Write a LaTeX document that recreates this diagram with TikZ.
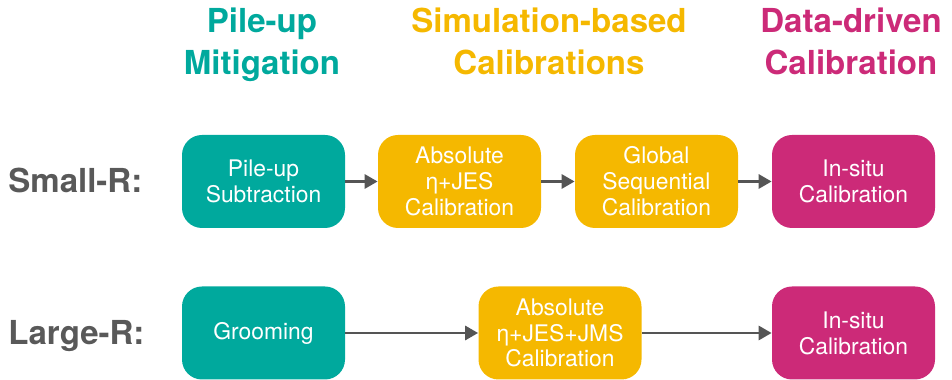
\documentclass[tikz,border=0pt]{standalone}
\usepackage{fontspec}
\setmainfont{TeX Gyre Heros}
\usepackage{tikz}
\usetikzlibrary{arrows.meta,positioning}
\definecolor{pileup}{HTML}{00A99D}
\definecolor{simcal}{HTML}{F5B800}
\definecolor{datacal}{HTML}{CC2A78}
\definecolor{labelgray}{HTML}{595959}
\definecolor{arrowgray}{HTML}{555555}

\begin{document}
\begin{tikzpicture}[
  stage/.style={rounded corners=0.4cm, minimum width=3.26cm, minimum height=1.86cm, inner sep=0, align=center, text=white, font=\fontsize{13}{14.7}\selectfont},
  head/.style={anchor=north, align=center, inner sep=0, font=\bfseries\fontsize{18.8}{23.8}\selectfont},
  rowlabel/.style={anchor=base west, inner sep=0, text=labelgray, font=\bfseries\fontsize{18.8}{22}\selectfont},
  flow/.style={draw=arrowgray, line width=1.7pt, -{Triangle[length=2.6mm,width=2.8mm]}}
]
\useasboundingbox (0,0) rectangle (19.04,-7.6);

\node[head, text=pileup]  (hpu)  at (5.24,-0.15)  {Pile-up\\Mitigation};
\node[head, text=simcal]  (hsim) at (10.98,-0.15) {Simulation-based\\Calibrations};
\node[head, text=datacal] (hdat) at (17.02,-0.15) {Data-driven\\Calibration};

\node[rowlabel] (small) at (0.16,-3.86) {Small-R:};
\node[rowlabel] (large) at (0.16,-6.89) {Large-R:};

% small-R chain
\node[stage, fill=pileup]  (sub)  at (5.27,-3.63)  {Pile-up\\Subtraction};
\node[stage, fill=simcal]  (abs)  at (9.19,-3.63)  {Absolute\\η+JES\\Calibration};
\node[stage, fill=simcal]  (gsc)  at (13.13,-3.63) {Global\\Sequential\\Calibration};
\node[stage, fill=datacal] (ins)  at (17.07,-3.63) {In-situ\\Calibration};
\draw[flow] (sub) -- (abs);
\draw[flow] (abs) -- (gsc);
\draw[flow] (gsc) -- (ins);

% large-R chain
\node[stage, fill=pileup]  (groom) at (5.27,-6.66)  {Grooming};
\node[stage, fill=simcal]  (absm)  at (11.2,-6.66)  {Absolute\\η+JES+JMS\\Calibration};
\node[stage, fill=datacal] (insl)  at (17.07,-6.66) {In-situ\\Calibration};
\draw[flow] (groom) -- (absm);
\draw[flow] (absm) -- (insl);
\end{tikzpicture}
\end{document}
